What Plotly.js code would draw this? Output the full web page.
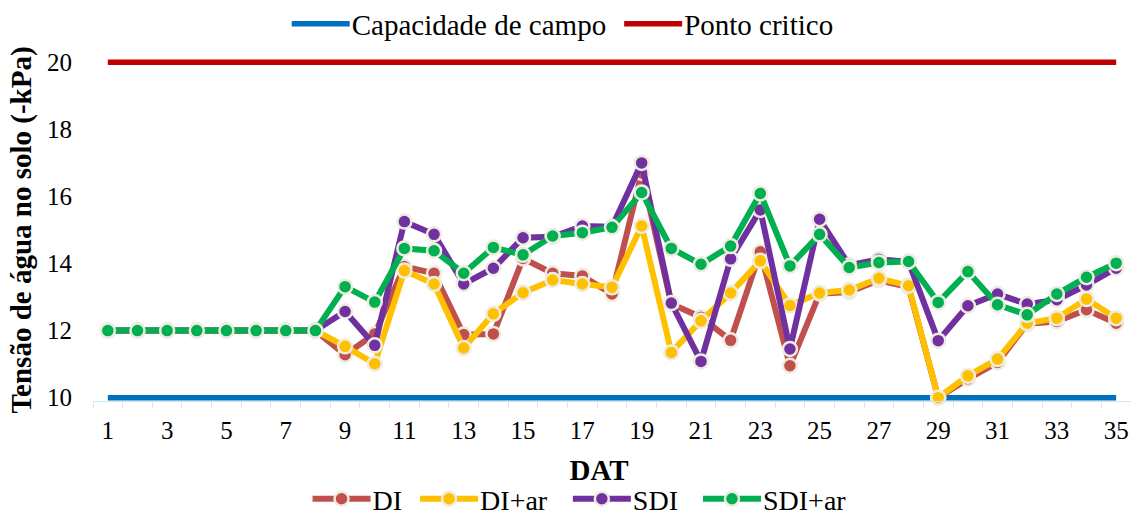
<!DOCTYPE html>
<html>
<head>
<meta charset="utf-8">
<script src="https://cdn.plot.ly/plotly-3.0.1.min.js"></script>
<style>
html,body{margin:0;padding:0;background:#fff;}
#chart{width:1131px;height:516px;}
</style>
</head>
<body>
<div id="chart"></div>
<script>
const days = [1,2,3,4,5,6,7,8,9,10,11,12,13,14,15,16,17,18,19,20,21,22,23,24,25,26,27,28,29,30,31,32,33,34,35];
const xTickLabels = [1,3,5,7,9,11,13,15,17,19,21,23,25,27,29,31,33,35];
const yTickLabels = [10,12,14,16,18,20];

const capacidadeCampo = [10,10,10,10,10,10,10,10,10,10,10,10,10,10,10,10,10,10,10,10,10,10,10,10,10,10,10,10,10,10,10,10,10,10,10];
const pontoCritico = [20,20,20,20,20,20,20,20,20,20,20,20,20,20,20,20,20,20,20,20,20,20,20,20,20,20,20,20,20,20,20,20,20,20,20];

const DI =     [12,12,12,12,12,12,12,12,11.28,11.9,13.91,13.71,11.88,11.9,14.15,13.71,13.63,13.09,16.7,12.8,12.4,11.71,14.35,10.95,13.1,13.15,13.5,13.3,10.0,10.56,11.05,12.2,12.27,12.62,12.22];
const DIar =   [12,12,12,12,12,12,12,12,11.53,11.01,13.79,13.39,11.48,12.5,13.13,13.51,13.39,13.29,15.12,11.35,12.29,13.12,14.08,12.75,13.12,13.21,13.56,13.34,10.0,10.65,11.15,12.22,12.37,12.94,12.37];
const SDI =    [12,12,12,12,12,12,12,12,12.57,11.56,15.25,14.87,13.39,13.86,14.77,14.8,15.12,15.1,17.0,12.82,11.08,14.14,15.6,11.45,15.32,13.95,14.13,14.05,11.7,12.74,13.09,12.79,12.92,13.36,13.86];
const SDIar =  [12,12,12,12,12,12,12,12,13.31,12.85,14.45,14.38,13.71,14.48,14.26,14.82,14.92,15.08,16.12,14.45,13.98,14.52,16.09,13.93,14.87,13.88,14.03,14.06,12.84,13.76,12.77,12.47,13.09,13.59,14.01];

const FONT = "'Liberation Serif', 'Times New Roman', serif";
const borderCol = '#EEECE1';
const ITEMW = 56;

function refLine(name, y, color) {
  return {x: days, y: y, name: name, type: 'scatter', mode: 'lines',
    line: {color: color, width: 5.5}, legend: 'legend', hoverinfo: 'skip'};
}
function series(name, y, color) {
  return {x: days, y: y, name: name, type: 'scatter', mode: 'lines+markers',
    line: {color: color, width: 6},
    marker: {color: color, size: 14, line: {color: borderCol, width: 2.5}},
    cliponaxis: false, legend: 'legend2'};
}

const data = [
  refLine('Capacidade de campo', capacidadeCampo, '#0070C0'),
  refLine('Ponto critico', pontoCritico, '#C00000'),
  series('DI', DI, '#C0504D'),
  series('DI+ar', DIar, '#FFC000'),
  series('SDI', SDI, '#7030A0'),
  series('SDI+ar', SDIar, '#00B050')
];

const layout = {
  width: 1131, height: 516,
  margin: {l: 93, r: 0, t: 59, b: 115},
  paper_bgcolor: '#fff', plot_bgcolor: '#fff',
  font: {family: FONT, size: 25, color: '#000'},
  showlegend: true,
  xaxis: {
    range: [0.5, 35.5],
    tickmode: 'array', tickvals: xTickLabels, ticktext: xTickLabels.map(String),
    ticks: '', showgrid: false, zeroline: false,
    showline: true, linecolor: '#D6E6F0', linewidth: 1,
    minor: {tickmode: 'linear', tick0: 0.5, dtick: 1, ticks: 'outside', ticklen: 6, tickcolor: '#D6E6F0', tickwidth: 1, showgrid: false},
    tickfont: {family: FONT, size: 25, color: '#000'},
    ticklabelstandoff: 7,
    title: {text: '<b>DAT</b>', font: {family: FONT, size: 29, color: '#000'}}
  },
  yaxis: {
    range: [9.9, 20.1],
    tickmode: 'array', tickvals: yTickLabels, ticktext: yTickLabels.map(String),
    ticks: '', showgrid: false, zeroline: false, showline: false,
    tickfont: {family: FONT, size: 25, color: '#000'},
    ticklabelstandoff: 20,
    title: {text: '<b>Tensão de água no solo (-kPa)</b>', font: {family: FONT, size: 29, color: '#000'}, standoff: 6}
  },
  legend: {
    orientation: 'h', xref: 'container', yref: 'container',
    x: 0.494, xanchor: 'center', y: 1 - 24/516, yanchor: 'middle',
    font: {family: FONT, size: 29, color: '#000'},
    bgcolor: 'rgba(0,0,0,0)', itemclick: false, itemwidth: ITEMW
  },
  legend2: {
    orientation: 'h', xref: 'container', yref: 'container',
    x: 0.4965, xanchor: 'center', y: 1 - 499/516, yanchor: 'middle',
    font: {family: FONT, size: 28, color: '#000'},
    bgcolor: 'rgba(0,0,0,0)', itemclick: false, itemwidth: ITEMW
  }
};

function spreadLegend(gd, cls, extra) {
  const lg = gd.querySelector('g.' + cls);
  if (!lg) return;
  lg.querySelectorAll('[clip-path]').forEach(function (el) { el.removeAttribute('clip-path'); });
  lg.removeAttribute('clip-path');
  const items = lg.querySelectorAll('g.traces');
  items.forEach(function (it, i) {
    const t = it.getAttribute('transform') || '';
    const m = t.match(/translate\(\s*([-\d.e]+)[ ,]+([-\d.e]+)\s*\)/);
    if (m && extra[i] !== undefined) {
      it.setAttribute('transform', 'translate(' + (parseFloat(m[1]) + extra[i]) + ',' + m[2] + ')');
    }
  });
}

Plotly.newPlot('chart', data, layout, {displayModeBar: false, staticPlot: true}).then(function (gd) {
  // lengthen legend symbols to match the reference
  gd.querySelectorAll('.legendlines path').forEach(function (p) {
    p.setAttribute('d', 'M6,0h58');
  });
  gd.querySelectorAll('.legendsymbols .legendpoints path').forEach(function (p) {
    p.setAttribute('transform', 'translate(35,0)');
  });
  // wider gaps between legend entries, as in the reference
  spreadLegend(gd, 'legend', [0, 7]);
  spreadLegend(gd, 'legend2', [0, 7, 21, 35]);
  // x-axis title position as in the reference
  const xt = gd.querySelector('.g-xtitle text');
  if (xt) {
    const x0 = parseFloat(xt.getAttribute('x'));
    const y0 = parseFloat(xt.getAttribute('y'));
    if (!isNaN(x0)) xt.setAttribute('x', x0 - 13);
    if (!isNaN(y0)) xt.setAttribute('y', y0 + 12);
  }
});
</script>
</body>
</html>
